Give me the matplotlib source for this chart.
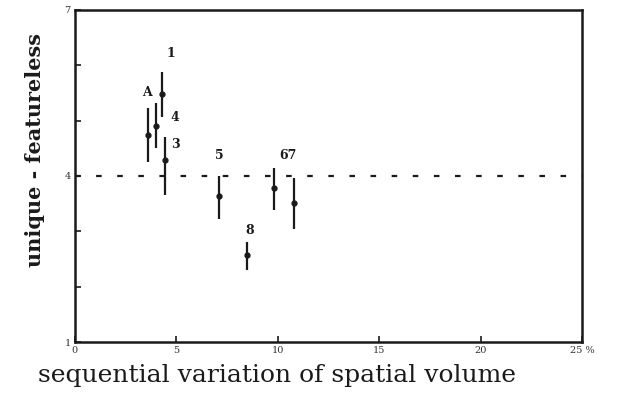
import matplotlib.pyplot as plt

# points
labels = ["A", "4", "1", "3", "5", "8", "6", "7"]
x = [3.6, 4.0, 4.3, 4.45, 7.1, 8.5, 9.8, 10.8]
y = [4.74, 4.90, 5.48, 4.29, 3.64, 2.57, 3.78, 3.51]
y_lo = [4.25, 4.50, 5.06, 3.65, 3.22, 2.30, 3.38, 3.04]
y_hi = [5.23, 5.32, 5.88, 4.70, 4.00, 2.80, 4.14, 3.96]

xticks = [0, 5, 10, 15, 20, 25]
xticklabels = ["0", "5", "10", "15", "20", "25 %"]
yticks = [1, 2, 3, 4, 5, 6, 7]
yticklabels = ["1", "", "", "4", "", "", "7"]
reference = 4.0

ink = "#1a1a1a"
plt.rcParams["font.family"] = ["DejaVu Serif"]

fig = plt.figure(figsize=(6.28, 3.95), dpi=100)
ax = fig.add_axes([0.119, 0.134, 0.808, 0.841])

err = [[v - lo for v, lo in zip(y, y_lo)], [hi - v for v, hi in zip(y, y_hi)]]
ax.errorbar(x, y, yerr=err, fmt="o", ms=3.5, color=ink, ecolor=ink,
            elinewidth=1.6, capsize=0)
ax.axhline(reference, color=ink, lw=1.6, ls=(0, (2.5, 7)))

# point labels, as placed in the original
ax.text(3.55, 5.45, "A", fontsize=9, fontweight="bold", color=ink, ha="center")
ax.text(4.75, 6.15, "1", fontsize=9, fontweight="bold", color=ink, ha="center")
ax.text(4.95, 5.0, "4", fontsize=9, fontweight="bold", color=ink, ha="center")
ax.text(4.95, 4.5, "3", fontsize=9, fontweight="bold", color=ink, ha="center")
ax.text(7.1, 4.3, "5", fontsize=9, fontweight="bold", color=ink, ha="center")
ax.text(8.6, 2.95, "8", fontsize=9, fontweight="bold", color=ink, ha="center")
ax.text(10.5, 4.3, "67", fontsize=9, fontweight="bold", color=ink, ha="center")

ax.set_xlim(0, 25)
ax.set_ylim(1, 7)
ax.set_xticks(xticks)
ax.set_xticklabels(xticklabels, fontsize=7, color="#333333")
ax.set_yticks(yticks)
ax.set_yticklabels(yticklabels, fontsize=7, color="#333333")
ax.tick_params(direction="in", length=4, width=1.2, color=ink, pad=3)

for s in ax.spines.values():
    s.set_linewidth(1.8)
    s.set_color(ink)

fig.text(0.055, 0.62, "unique - featureless", fontsize=15, fontweight="bold",
         color=ink, rotation=90, ha="center", va="center")
fig.text(0.06, 0.02, "sequential variation of spatial volume", fontsize=18,
         color=ink, ha="left", va="bottom")

fig.savefig("out.png", dpi=100)
